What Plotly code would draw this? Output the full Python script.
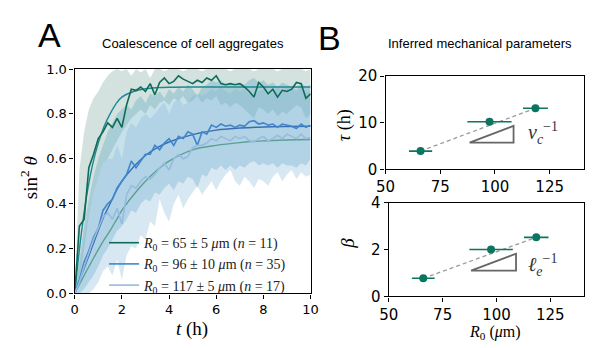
import plotly.graph_objects as go

W, H = 593, 348

# ---------------- Panel A data ----------------
t = [round(i * 0.2, 1) for i in range(51)]

data1 = [0.0, 0.30, 0.33, 0.56, 0.62, 0.69, 0.72, 0.76, 0.74, 0.78, 0.74, 0.84, 0.91, 0.905, 0.92, 0.90,
         0.935, 0.885, 0.94, 0.96, 0.935, 0.945, 0.97, 0.955, 0.945, 0.935, 0.95, 0.94, 0.96, 0.95, 0.97,
         0.935, 0.93, 0.935, 0.93, 0.935, 0.92, 0.90, 0.875, 0.94, 0.92, 0.89, 0.91, 0.875, 0.905, 0.90,
         0.91, 0.94, 0.935, 0.87, 0.89]
data2 = [0.0, 0.06, 0.14, 0.19, 0.25, 0.29, 0.37, 0.40, 0.42, 0.47, 0.50, 0.53, 0.59, 0.56, 0.59, 0.62,
         0.62, 0.66, 0.64, 0.67, 0.69, 0.66, 0.70, 0.69, 0.72, 0.71, 0.66, 0.72, 0.71, 0.75, 0.74, 0.755,
         0.745, 0.75, 0.74, 0.75, 0.745, 0.765, 0.77, 0.755, 0.76, 0.75, 0.755, 0.74, 0.755, 0.75, 0.745,
         0.735, 0.755, 0.74, 0.75]
data3 = [0.0, 0.05, 0.12, 0.18, 0.24, 0.29, 0.34, 0.36, 0.33, 0.38, 0.31, 0.44, 0.48, 0.47, 0.50, 0.52,
         0.51, 0.53, 0.56, 0.58, 0.55, 0.60, 0.62, 0.60, 0.61, 0.65, 0.66, 0.66, 0.67, 0.69, 0.68, 0.70,
         0.69, 0.68, 0.70, 0.69, 0.70, 0.68, 0.675, 0.69, 0.70, 0.68, 0.69, 0.705, 0.69, 0.71, 0.70, 0.69,
         0.71, 0.69, 0.695]

band1_hi = [0.0, 0.55, 0.72, 0.82, 0.87, 0.90, 0.94, 0.97, 0.99, 1.0, 0.99, 1.0, 0.97, 1.0, 0.985, 1.0,
            0.96, 1.0, 1.0, 0.99, 1.0, 1.0, 1.0, 0.99, 1.0, 1.0, 1.0, 0.99, 1.0, 1.0, 1.0, 1.0, 1.0, 0.99,
            1.0, 1.0, 1.0, 1.0, 0.99, 1.0, 1.0, 1.0, 1.0, 0.99, 1.0, 1.0, 1.0, 1.0, 1.0, 0.99, 1.0]
band1_lo = [0.0, 0.05, 0.20, 0.35, 0.45, 0.52, 0.58, 0.60, 0.64, 0.68, 0.72, 0.75, 0.78, 0.80, 0.82, 0.80,
            0.84, 0.82, 0.85, 0.86, 0.84, 0.87, 0.86, 0.88, 0.85, 0.86, 0.88, 0.85, 0.87, 0.86, 0.88, 0.84,
            0.85, 0.83, 0.85, 0.84, 0.82, 0.80, 0.78, 0.83, 0.82, 0.80, 0.82, 0.79, 0.81, 0.80, 0.82, 0.84,
            0.83, 0.78, 0.80]
band2_hi = [0.0, 0.15, 0.30, 0.42, 0.52, 0.60, 0.66, 0.72, 0.76, 0.80, 0.82, 0.84, 0.82, 0.86, 0.88, 0.85,
            0.89, 0.88, 0.90, 0.87, 0.91, 0.89, 0.92, 0.90, 0.93, 0.91, 0.88, 0.92, 0.93, 0.95, 0.94, 0.95,
            0.93, 0.94, 0.92, 0.94, 0.93, 0.95, 0.96, 0.94, 0.95, 0.93, 0.94, 0.92, 0.94, 0.93, 0.92, 0.91,
            0.94, 0.92, 0.93]
band2_lo = [0.0, 0.0, 0.02, 0.05, 0.08, 0.12, 0.17, 0.20, 0.24, 0.28, 0.30, 0.33, 0.37, 0.36, 0.40, 0.42,
            0.41, 0.45, 0.44, 0.47, 0.49, 0.46, 0.50, 0.49, 0.52, 0.51, 0.47, 0.53, 0.52, 0.56, 0.55, 0.57,
            0.55, 0.57, 0.55, 0.57, 0.56, 0.58, 0.59, 0.57, 0.58, 0.57, 0.58, 0.56, 0.58, 0.57, 0.57, 0.56,
            0.58, 0.57, 0.60]
band3_hi = [0.0, 0.12, 0.25, 0.36, 0.45, 0.52, 0.58, 0.60, 0.60, 0.66, 0.60, 0.72, 0.76, 0.74, 0.78, 0.80,
            0.78, 0.80, 0.83, 0.85, 0.80, 0.85, 0.87, 0.84, 0.85, 0.88, 0.89, 0.88, 0.89, 0.91, 0.90, 0.92,
            0.90, 0.89, 0.91, 0.90, 0.91, 0.89, 0.88, 0.90, 0.91, 0.88, 0.90, 0.92, 0.90, 0.92, 0.91, 0.90,
            0.92, 0.90, 0.90]
band3_lo = [0.0, 0.0, 0.0, 0.0, 0.02, 0.05, 0.10, 0.12, 0.08, 0.15, 0.06, 0.17, 0.21, 0.20, 0.26, 0.24,
            0.32, 0.30, 0.42, 0.36, 0.32, 0.40, 0.44, 0.38, 0.42, 0.45, 0.48, 0.44, 0.47, 0.50, 0.46, 0.50,
            0.53, 0.55, 0.50, 0.48, 0.52, 0.50, 0.47, 0.51, 0.50, 0.48, 0.52, 0.54, 0.50, 0.53, 0.55, 0.51,
            0.54, 0.52, 0.53]

fit_t = [0, 0.25, 0.5, 0.75, 1, 1.25, 1.5, 1.75, 2, 2.5, 3, 3.5, 4, 5, 6, 7, 8, 9, 10]
fit1 = [0, 0.24, 0.43, 0.57, 0.67, 0.745, 0.80, 0.845, 0.875, 0.90, 0.912, 0.917, 0.919, 0.92, 0.92, 0.92, 0.92, 0.92, 0.92]
fit2 = [0, 0.07, 0.14, 0.21, 0.28, 0.345, 0.40, 0.455, 0.50, 0.565, 0.615, 0.650, 0.675, 0.708, 0.728, 0.737, 0.742, 0.744, 0.745]
fit3 = [0, 0.05, 0.10, 0.148, 0.195, 0.24, 0.28, 0.325, 0.37, 0.44, 0.50, 0.55, 0.59, 0.64, 0.66, 0.672, 0.68, 0.684, 0.686]

legend_names = [
    "<i>R</i><sub>0</sub> = 65 ± 5 <i>μ</i>m (<i>n</i> = 11)",
    "<i>R</i><sub>0</sub> = 96 ± 10 <i>μ</i>m (<i>n</i> = 35)",
    "<i>R</i><sub>0</sub> = 117 ± 5 <i>μ</i>m (<i>n</i> = 17)",
]

# ---------------- Panel B data ----------------
R0 = [66, 97.5, 118.5]
R0_err = [5.3, 10.1, 5.7]
tau = [3.9, 10.2, 13.1]
beta = [0.77, 2.0, 2.52]
tau_fit_x = [66, 118.5]
tau_fit_y = [3.9, 13.1]
beta_fit_x = [66, 118.5]
beta_fit_y = [0.77, 2.52]
tri_tau_x = [88.4, 108.5, 108.5, 88.4]
tri_tau_y = [5.7, 5.7, 9.3, 5.7]
tri_beta_x = [88.2, 109.1, 109.1, 88.2]
tri_beta_y = [1.1, 1.1, 1.82, 1.1]

# ---------------- colours ----------------
c_data = ["#0e6b55", "#3f86cc", "#98badf"]
c_fit = ["#1f8898", "#3a6cb4", "#5aa193"]
c_band = ["rgba(110,160,150,0.30)", "rgba(70,155,190,0.30)", "rgba(125,180,215,0.30)"]
green = "#0b7560"

fig = go.Figure()

bands = [(band1_lo, band1_hi), (band2_lo, band2_hi), (band3_lo, band3_hi)]
for (lo, hi), col in zip(bands, c_band):
    fig.add_trace(go.Scatter(x=t + t[::-1], y=hi + lo[::-1], fill="toself", fillcolor=col,
                             line=dict(width=0), mode="lines", showlegend=False, hoverinfo="skip",
                             xaxis="x", yaxis="y"))

for f, col in zip([fit1, fit2, fit3], c_fit):
    fig.add_trace(go.Scatter(x=fit_t, y=f, mode="lines", line=dict(color=col, width=1.4, shape="spline"),
                             showlegend=False, xaxis="x", yaxis="y"))

for d, col, nm in zip([data1, data2, data3], c_data, legend_names):
    fig.add_trace(go.Scatter(x=t, y=d, mode="lines", line=dict(color=col, width=1.6),
                             name=nm, xaxis="x", yaxis="y"))

# Panel B top
fig.add_trace(go.Scatter(x=tau_fit_x, y=tau_fit_y, mode="lines",
                         line=dict(color="#9a9a9a", width=1.3, dash="4px,3px"),
                         showlegend=False, xaxis="x2", yaxis="y2"))
fig.add_trace(go.Scatter(x=tri_tau_x, y=tri_tau_y, mode="lines", line=dict(color="#666666", width=1.8),
                         showlegend=False, xaxis="x2", yaxis="y2"))
fig.add_trace(go.Scatter(x=R0, y=tau, mode="markers", marker=dict(color=green, size=8),
                         error_x=dict(type="data", array=R0_err, color=green, thickness=1.6, width=0),
                         showlegend=False, xaxis="x2", yaxis="y2"))
# Panel B bottom
fig.add_trace(go.Scatter(x=beta_fit_x, y=beta_fit_y, mode="lines",
                         line=dict(color="#9a9a9a", width=1.3, dash="4px,3px"),
                         showlegend=False, xaxis="x3", yaxis="y3"))
fig.add_trace(go.Scatter(x=tri_beta_x, y=tri_beta_y, mode="lines", line=dict(color="#666666", width=1.8),
                         showlegend=False, xaxis="x3", yaxis="y3"))
fig.add_trace(go.Scatter(x=R0, y=beta, mode="markers", marker=dict(color=green, size=8),
                         error_x=dict(type="data", array=R0_err, color=green, thickness=1.6, width=0),
                         showlegend=False, xaxis="x3", yaxis="y3"))


def px(x):
    return x / W


def py(y):
    return 1 - y / H


axis_common = dict(showline=True, mirror=True, linecolor="black", linewidth=1.4, ticks="outside",
                   ticklen=4, tickwidth=1.2, tickcolor="black", showgrid=False, zeroline=False,
                   tickfont=dict(family="DejaVu Sans", size=13, color="black"))
axisB = dict(axis_common)
axisB["tickfont"] = dict(family="DejaVu Sans", size=15, color="black")

fig.update_layout(
    width=W, height=H, margin=dict(l=0, r=0, t=0, b=0),
    paper_bgcolor="white", plot_bgcolor="white",
    xaxis=dict(axis_common, domain=[px(66.7), px(310)], range=[0, 10], tickvals=[0, 2, 4, 6, 8, 10],
               anchor="y"),
    yaxis=dict(axis_common, domain=[py(300), py(63.3)], range=[0, 1],
               tickvals=[0, 0.2, 0.4, 0.6, 0.8, 1.0], ticktext=["0.0", "0.2", "0.4", "0.6", "0.8", "1.0"],
               anchor="x"),
    xaxis2=dict(axisB, domain=[px(387.3), px(592)], range=[50, 140.7], tickvals=[50, 75, 100, 125],
                anchor="y2"),
    yaxis2=dict(axisB, domain=[py(169), py(70.7)], range=[0, 20], tickvals=[0, 10, 20], anchor="x2"),
    xaxis3=dict(axisB, domain=[px(390.7), px(592)], range=[50, 140.7], tickvals=[50, 75, 100, 125],
                anchor="y3"),
    yaxis3=dict(axisB, domain=[py(303), py(204.3)], range=[0, 4], tickvals=[0, 2, 4], anchor="x3"),
    legend=dict(x=px(97), y=py(230), xanchor="left", yanchor="top", bgcolor="rgba(0,0,0,0)",
                font=dict(family="Liberation Serif", size=14, color="#222"), tracegroupgap=0,
                itemwidth=30),
)

ann = []


def text(x, y, s, size, family="Liberation Sans", angle=0, color="black"):
    ann.append(dict(x=px(x), y=py(y), xref="paper", yref="paper", text=s, showarrow=False,
                    xanchor="center", yanchor="middle", textangle=angle,
                    font=dict(family=family, size=size, color=color)))


text(41, 27, "A", 34)
text(330, 31, "B", 34)
text(188.5, 36, "Coalescence of cell aggregates", 13)
text(485, 36, "Inferred mechanical parameters", 13)
text(19, 178, "sin<sup>2</sup> <i>θ</i>", 19, family="Liberation Serif", angle=-90)
text(188, 337, "<i>t</i> (h)", 19, family="Liberation Serif")
text(345, 123, "<i>τ</i> (h)", 18, family="Liberation Serif", angle=-90)
text(348, 247, "<i>β</i>", 19, family="Liberation Serif", angle=-90)
text(500, 341, "<i>R</i><sub>0</sub> (<i>μ</i>m)", 16, family="Liberation Serif")
text(550, 131, "<i>v</i><sub><i>c</i></sub><sup>−1</sup>", 20, family="Liberation Serif", color="#333")
text(549, 270, "<i>ℓ</i><sub><i>e</i></sub><sup>−1</sup>", 20, family="Liberation Serif", color="#333")
fig.update_layout(annotations=ann)

fig.write_html("out.html")
